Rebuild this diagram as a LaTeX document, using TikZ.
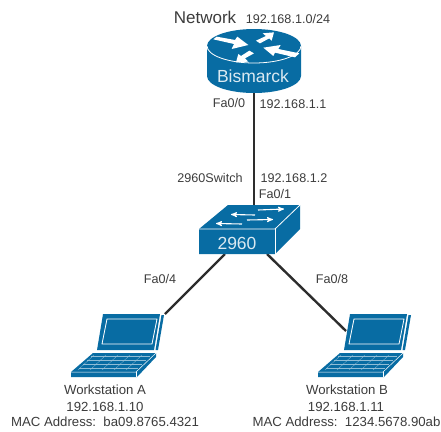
\documentclass[tikz,border=0pt]{standalone}
\usepackage{fontspec}
\setmainfont{Liberation Sans}
\usetikzlibrary{arrows}
\definecolor{dev_blue}{RGB}{8,108,163}
\definecolor{link_gray}{RGB}{45,45,45}
\definecolor{text_gray}{RGB}{60,60,60}

\begin{document}
\begin{tikzpicture}[x=1pt,y=-1pt]
    \tikzstyle{lbl}=[text=text_gray,inner sep=0pt,font=\fontsize{12.6}{14}\selectfont]
    \tikzstyle{wlbl}=[text=text_gray,inner sep=0pt,font=\fontsize{13.2}{15}\selectfont]
    \tikzstyle{big}=[text=text_gray,inner sep=0pt,font=\fontsize{17}{19}\selectfont]
    \tikzstyle{inicon}=[text=white!85!dev_blue,inner sep=0pt,font=\fontsize{17.5}{19}\selectfont]
    \tikzstyle{body}=[fill=dev_blue,draw=none]
    \tikzstyle{trim}=[draw=white,line width=0.8pt]
    \tikzstyle{link}=[draw=link_gray,line width=2.4pt]
    \tikzstyle{swarrow}=[white,line width=1.1pt,-stealth']
    \tikzstyle{keys}=[draw=white!55!dev_blue,line width=0.3pt]
    \useasboundingbox (0,0) rectangle (441,431);

    \coordinate (router) at (254,90);
    \coordinate (switchtop) at (254,207);
    \coordinate (switchl) at (225,254);
    \coordinate (switchr) at (267,254);
    \coordinate (lapa) at (165,314);
    \coordinate (lapb) at (346,331);
    \path
     (router) edge[link] (switchtop)
     (switchl) edge[link] (lapa)
     (switchr) edge[link] (lapb)
     ;

    % router
    \fill[body] (207,46) -- (207,76) arc[start angle=180,end angle=0,x radius=47,y radius=17] -- (301,46) -- cycle;
    \fill[body] (254,46) ellipse[x radius=47,y radius=17];
    \draw[trim] (207,46) arc[start angle=180,end angle=0,x radius=47,y radius=17];
    \begin{scope}[shift={(160,0)},x=0.3333pt,y=-0.3333pt,fill=white]
      \fill (160,118) -- (170,110) -- (225,120) -- (232,110) -- (265,135) -- (215,147) -- (222,132) -- cycle;
      \fill (288,122) -- (318,108) -- (308,100) -- (342,97) -- (335,122) -- (328,115) -- (300,130) -- cycle;
      \fill (310,143) -- (362,135) -- (355,147) -- (418,160) -- (405,172) -- (345,158) -- (340,168) -- cycle;
      \fill (228,187) -- (235,162) -- (243,168) -- (268,152) -- (282,160) -- (255,175) -- (265,185) -- cycle;
    \end{scope}

    % switch
    \fill[body] (228,205) -- (300,205) -- (300,229) -- (275,254) -- (199,254) -- (199,229) -- cycle;
    \draw[trim] (199,229) -- (275,229) -- (300,205);
    \draw[trim] (275,229) -- (275,254);
    \draw[swarrow] (258,210) -- (284,209);
    \draw[swarrow] (255,215) -- (231,214.5);
    \draw[swarrow] (247,220) -- (273,219.5);
    \draw[swarrow] (242,224) -- (216,223.5);

    % laptops
    \foreach \dx in {0,247} {
      \begin{scope}[shift={(\dx,0)}]
        \fill[body] (103,314) -- (160,314) -- (154,350) -- (97,350) -- cycle;
        \draw[trim] (107,319) -- (157,319) -- (152,344) -- (102,344) -- cycle;
        \fill[body] (161.5,315) -- (164,315) -- (158,350) -- (155.5,350) -- cycle;
        \fill[body] (93,353) -- (156,353) -- (156,357) -- (137,377) -- (71,377) -- (71,372) -- cycle;
        \draw[white,line width=0.5pt] (71,372) -- (136,372) -- (156,353);
        \draw[white,line width=0.5pt] (136,372) -- (136,377);
        \foreach \yy/\xa/\xb in {356/91/150,360/87/146,364/83/142,368/79/138} {
          \draw[keys] (\xa,\yy) -- (\xb,\yy);
        }
        \foreach \xx in {0,12,...,48} {
          \draw[keys] (94+\xx,355) -- (78+\xx,370);
        }
      \end{scope}
    }

    \node[big] (netname) at (205,17) {Network};
    \node[lbl] (netaddr) at (288,19) {192.168.1.0/24};
    \node[inicon] (rname) at (253,76) {Bismarck};
    \node[lbl] (rport) at (229,103) {Fa0/0};
    \node[lbl] (raddr) at (293,104) {192.168.1.1};
    \node[lbl] (sname) at (210,178) {2960Switch};
    \node[lbl] (saddr) at (294,178) {192.168.1.2};
    \node[lbl] (sport) at (275,194) {Fa0/1};
    \node[inicon] (smodel) at (237,243) {2960};
    \node[lbl] (sporta) at (160,279) {Fa0/4};
    \node[lbl] (sportb) at (332,279) {Fa0/8};
    \node[wlbl] (wa) at (105,390) {Workstation A};
    \node[wlbl] (wa_ip) at (105,407) {192.168.1.10};
    \node[wlbl] (wa_mac) at (105,422) {MAC Address:\ \ ba09.8765.4321};
    \node[wlbl] (wb) at (347,390) {Workstation B};
    \node[wlbl] (wb_ip) at (346,407) {192.168.1.11};
    \node[wlbl] (wb_mac) at (346.5,422) {MAC Address:\ \ 1234.5678.90ab};
\end{tikzpicture}
\end{document}
